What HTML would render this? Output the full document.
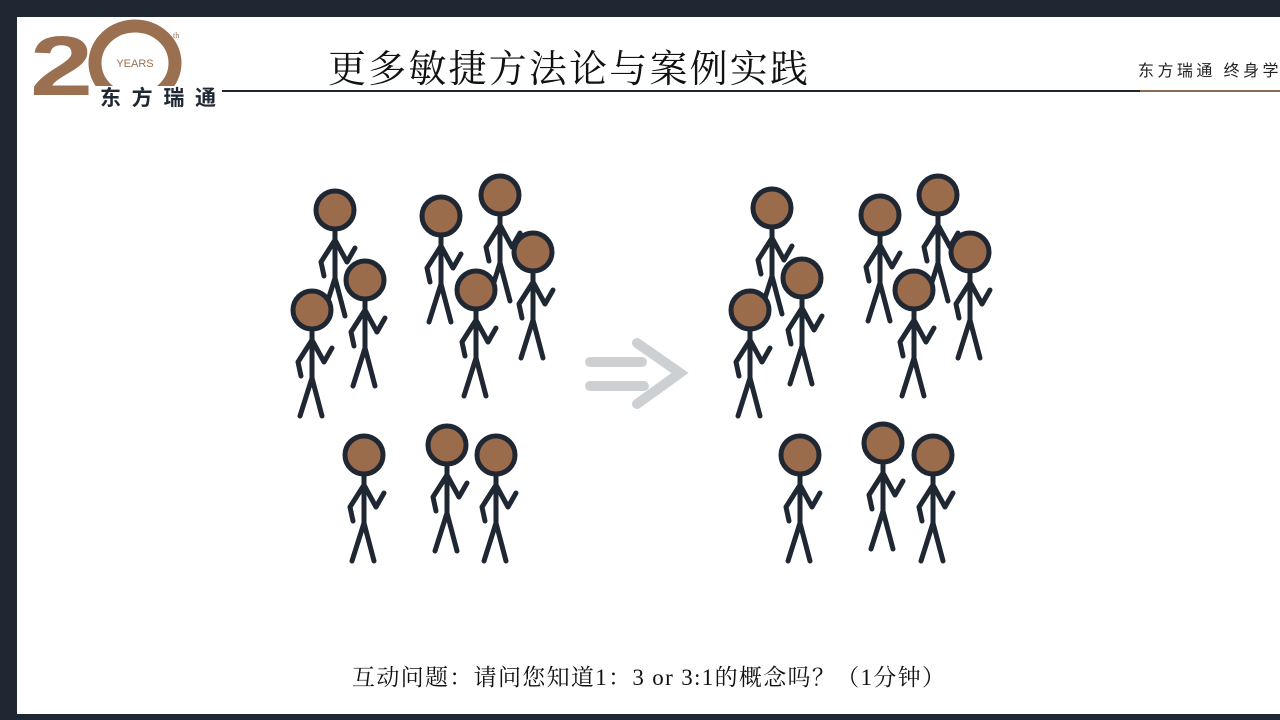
<!DOCTYPE html>
<html><head><meta charset="utf-8"><style>
body{margin:0;width:1280px;height:720px;background:#1f2733;overflow:hidden;position:relative;font-family:"Liberation Serif","Noto Serif CJK SC",serif}
#w{position:absolute;left:17px;top:17px;width:1263px;height:697px;background:#fff}
</style></head><body>
<div id="w"></div>
<svg width="1280" height="720" style="position:absolute;left:0;top:0">
<defs>
<g id="f" stroke="#1f2733" stroke-width="5" fill="none" stroke-linecap="round" stroke-linejoin="round">
<path d="M0 19 L0 68 M0 68 L-12 106 M0 68 L10 106 M0 30 L-14 52 L-11 66 M0 30 L12 52 L20 38"/>
<circle cx="0" cy="0" r="19" fill="#9a6c4c"/>
</g>
</defs>
<!-- logo -->
<text transform="translate(30,95) scale(1.35,1)" font-family="Liberation Sans,sans-serif" font-weight="bold" font-size="84" fill="#9a7050">2</text>
<ellipse cx="135" cy="63" rx="40" ry="37" fill="none" stroke="#9a7050" stroke-width="13"/>
<ellipse cx="135" cy="63" rx="28" ry="17" fill="#fff"/>
<text x="135" y="67" font-size="11" text-anchor="middle" fill="#9a7050" font-family="Liberation Sans,sans-serif">YEARS</text>
<text x="173" y="38" font-size="8" fill="#9a7050">th</text>
<rect x="95" y="86" width="124" height="26" fill="#fff"/>
<text x="100" y="105" font-size="21" font-weight="bold" fill="#1f2733" font-family="Liberation Sans,'Noto Sans CJK SC',sans-serif" textLength="116">东方瑞通</text>
<line x1="222" y1="91" x2="1280" y2="91" stroke="#1f2733" stroke-width="2"/>
<line x1="1140" y1="91" x2="1280" y2="91" stroke="#8a6a50" stroke-width="2"/>
<text x="328" y="82" font-size="38" fill="#111" font-family="'Noto Serif CJK SC',serif" textLength="480">更多敏捷方法论与案例实践</text>
<text x="1138" y="76" font-size="16" fill="#222" font-family="Liberation Sans,'Noto Sans CJK SC',sans-serif" textLength="160">东方瑞通 终身学习</text>
<!-- figures -->
<use href="#f" x="335" y="210"/><use href="#f" x="365" y="280"/><use href="#f" x="312" y="310"/>
<use href="#f" x="441" y="216"/><use href="#f" x="500" y="195"/><use href="#f" x="533" y="252"/><use href="#f" x="476" y="290"/>
<use href="#f" x="364" y="455"/><use href="#f" x="447" y="445"/><use href="#f" x="496" y="455"/>
<use href="#f" x="772" y="208"/><use href="#f" x="802" y="278"/><use href="#f" x="750" y="310"/>
<use href="#f" x="880" y="215"/><use href="#f" x="938" y="195"/><use href="#f" x="970" y="252"/><use href="#f" x="914" y="290"/>
<use href="#f" x="800" y="455"/><use href="#f" x="883" y="443"/><use href="#f" x="933" y="455"/>
<!-- arrow -->
<g stroke="#cdd0d3" stroke-width="10" stroke-linecap="round" fill="none">
<path d="M590 362 L642 362 M590 386 L644 386 M637 343 L680 373 L637 404"/>
</g>
<text x="352" y="685" font-size="23" fill="#111" textLength="593">互动问题：请问您知道1：3 or 3:1的概念吗？（1分钟）</text>
</svg>
</body></html>
